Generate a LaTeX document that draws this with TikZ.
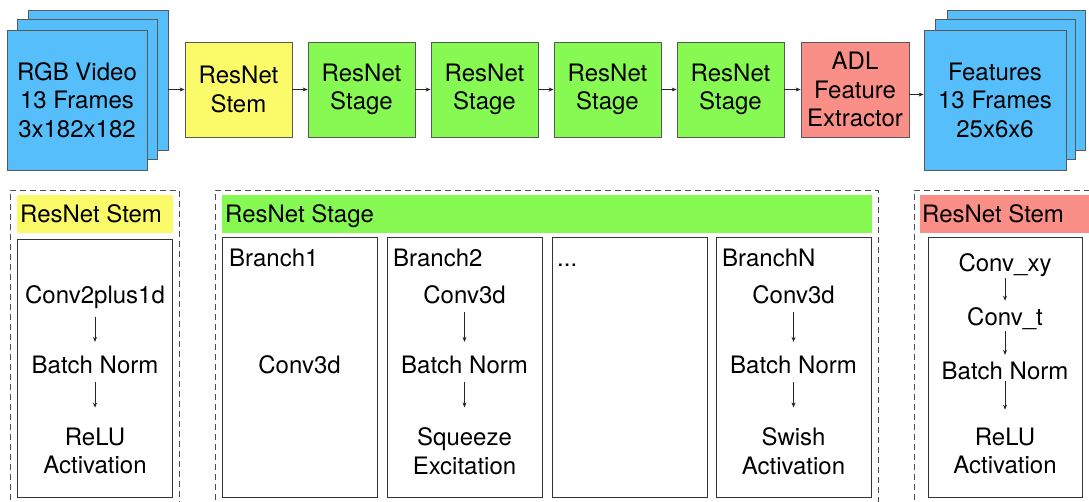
\documentclass[tikz,border=0pt]{standalone}
\usepackage{fontspec}
\setmainfont{TeX Gyre Heros}
\usetikzlibrary{arrows.meta}
\definecolor{cblue}{RGB}{86,190,250}
\definecolor{cyellow}{RGB}{251,251,105}
\definecolor{cgreen}{RGB}{134,250,82}
\definecolor{cred}{RGB}{250,143,135}
\tikzset{
  stackbox/.style={draw=black!65, line width=0.8pt, fill=cblue, minimum width=140pt, minimum height=140pt, inner sep=0pt, align=center},
  topbox/.style={draw=black!65, line width=0.8pt, minimum width=107pt, minimum height=95pt, inner sep=0pt, align=center},
  wbox/.style={draw=black!80, line width=0.9pt, fill=white, minimum width=155pt, minimum height=260pt, inner sep=0pt, anchor=north west},
  hdr/.style={inner sep=0pt, anchor=north west},
  hdrtxt/.style={inner sep=0pt, anchor=base west},
  txt/.style={inner xsep=2pt, inner ysep=8pt, align=center},
  arr/.style={-{Stealth[length=5pt,width=4pt]}, line width=0.7pt, black!85},
  darr/.style={arr, shorten >=6pt},
  dashbox/.style={draw=black!70, line width=0.8pt, dash pattern=on 6pt off 4pt},
}
\begin{document}
\begin{tikzpicture}[x=1pt,y=-1pt, font=\fontsize{24}{28.5}\selectfont]
\useasboundingbox (0,0) rectangle (1089,501);

% ---- top row ----
\node[stackbox] (rgb3) at (98,80) {};
\node[stackbox] (rgb2) at (87,89) {};
\node[stackbox] (rgb1) at (77,100) {RGB Video\\13 Frames\\3x182x182};

\node[topbox, fill=cyellow] (stem) at (238.5,89.5) {ResNet\\Stem};
\node[topbox, fill=cgreen] (st1) at (361.5,89.5) {ResNet\\Stage};
\node[topbox, fill=cgreen] (st2) at (484.5,89.5) {ResNet\\Stage};
\node[topbox, fill=cgreen] (st3) at (607.5,89.5) {ResNet\\Stage};
\node[topbox, fill=cgreen] (st4) at (730.5,89.5) {ResNet\\Stage};
\node[topbox, fill=cred, minimum width=108pt] (adl) at (855,89.5) {ADL\\Feature\\Extractor};

\node[stackbox, minimum width=138pt] (ft3) at (1016,80) {};
\node[stackbox] (ft2) at (1005,89) {};
\node[stackbox, minimum width=142pt] (ft1) at (995,100) {Features\\13 Frames\\25x6x6};

\draw[arr] (rgb3.east |- stem.west) -- (stem.west);
\draw[arr] (stem) -- (st1);
\draw[arr] (st1) -- (st2);
\draw[arr] (st2) -- (st3);
\draw[arr] (st3) -- (st4);
\draw[arr] (st4) -- (adl);
\draw[arr] ([yshift=-5pt]adl.east) -- ([yshift=-5pt]adl.east -| ft1.west);

% ---- bottom: ResNet Stem (left) ----
\draw[dashbox] (10,510) -- (10,190) -- (179,190) -- (179,510);
\node[hdr, fill=cyellow, minimum width=156pt, minimum height=38pt] (hstem) at (17,195) {};
\node[hdrtxt] (hstemt) at (20,222.6) {ResNet Stem};
\node[wbox, minimum height=258pt] (bstem) at (17,239) {};
\node[txt] (s1) at (95,297) {Conv2plus1d};
\node[txt] (s2) at (95,365) {Batch Norm};
\node[txt, inner ysep=14pt] (s3) at (95,451) {ReLU\\Activation};
\draw[darr] (s1) -- (s2);
\draw[darr] (s2) -- (s3);

% ---- bottom: ResNet Stage (middle) ----
\draw[dashbox] (215,510) -- (215,190) -- (878,190) -- (878,510);
\node[hdr, fill=cgreen, minimum width=650pt, minimum height=38pt] (hstage) at (222,195) {};
\node[hdrtxt] (hstaget) at (225,222.6) {ResNet Stage};

\node[wbox] (b1) at (222,237) {};
\node[wbox] (b2) at (387,237) {};
\node[wbox] (b3) at (552,237) {};
\node[wbox] (bn) at (716,237) {};
\node[hdrtxt] (b1t) at (229,266) {Branch1};
\node[hdrtxt] (b2t) at (393,266) {Branch2};
\node[hdrtxt] (b3t) at (557,266) {...};
\node[hdrtxt] (bnt) at (722,266) {BranchN};

\node[txt] (c1) at (299.5,365) {Conv3d};

\node[txt] (c2a) at (464.5,295) {Conv3d};
\node[txt] (c2b) at (464.5,365) {Batch Norm};
\node[txt, inner ysep=14pt] (c2c) at (464.5,451) {Squeeze\\Excitation};
\draw[darr] (c2a) -- (c2b);
\draw[darr] (c2b) -- (c2c);

\node[txt] (cna) at (793.5,295) {Conv3d};
\node[txt] (cnb) at (793.5,365) {Batch Norm};
\node[txt, inner ysep=14pt] (cnc) at (793.5,451) {Swish\\Activation};
\draw[darr] (cna) -- (cnb);
\draw[darr] (cnb) -- (cnc);

% ---- bottom: right stem ----
\draw[dashbox] (914,510) -- (914,190) -- (1095,190);
\node[hdr, fill=cred, minimum width=175pt, minimum height=38pt] (hadl) at (920,195) {};
\node[hdrtxt] (hadlt) at (922,222.6) {ResNet Stem};
\node[wbox, minimum width=154pt] (badl) at (928,237) {};
\node[txt, inner ysep=1pt] (r1) at (1005,265.5) {Conv\_xy};
\node[txt, inner ysep=1pt] (r2) at (1005,319) {Conv\_t};
\node[txt, inner ysep=1pt] (r3) at (1005,371) {Batch Norm};
\node[txt, inner ysep=12pt] (r4) at (1005,451) {ReLU\\Activation};
\draw[darr] (r1) -- (r2);
\draw[darr] (r2) -- (r3);
\draw[darr] (r3) -- (r4);
\end{tikzpicture}
\end{document}
